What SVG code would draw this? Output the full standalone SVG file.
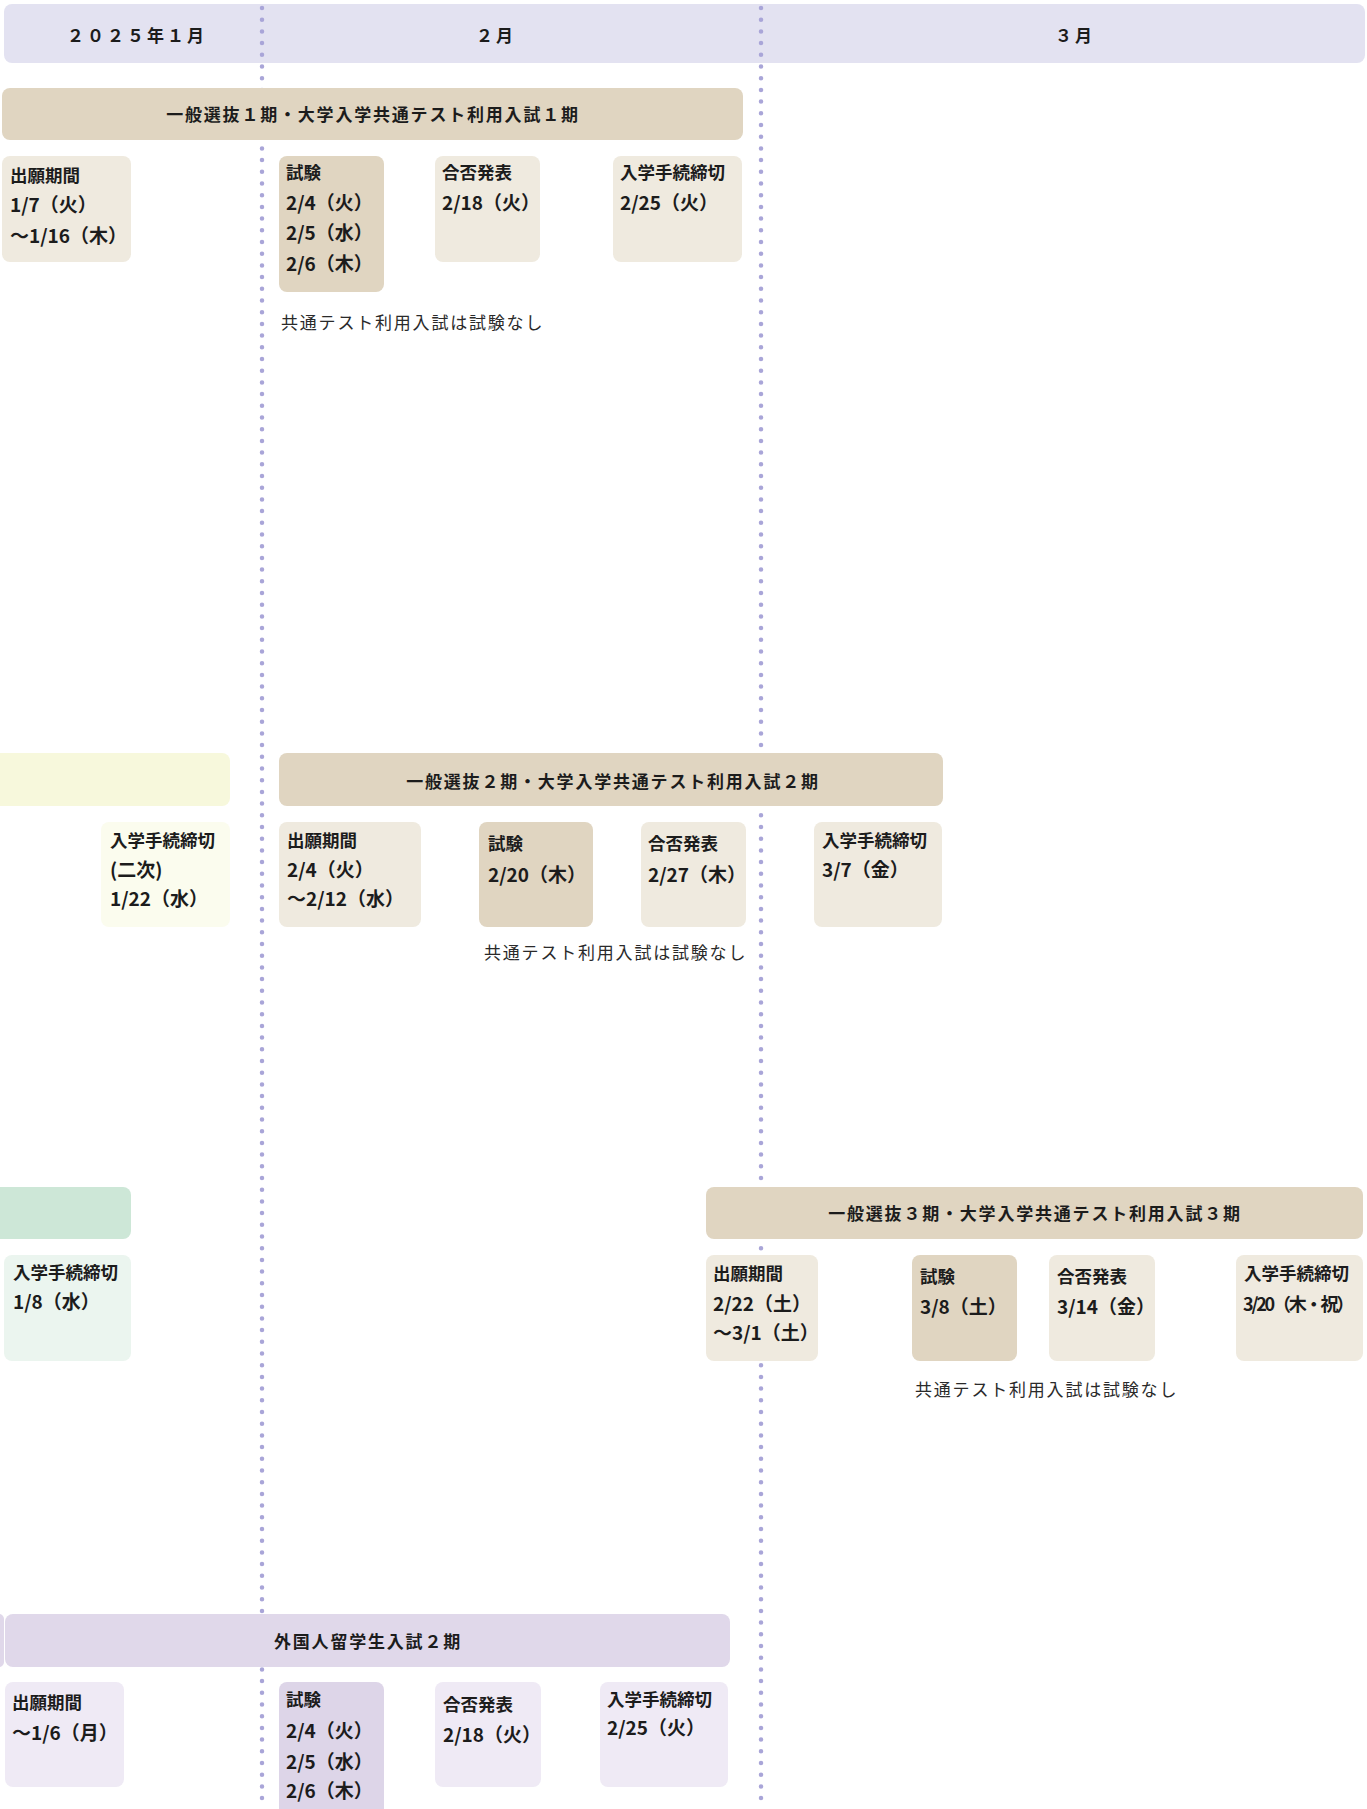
<svg xmlns="http://www.w3.org/2000/svg" width="1367" height="1809" viewBox="0 0 1367 1809">
<style>
text{font-family:"Noto Sans CJK JP","Noto Sans",sans-serif;fill:#1c1c1c}
.hd{font-size:17px;font-weight:700;letter-spacing:3px;text-anchor:middle}
.bn{font-size:17px;font-weight:700;letter-spacing:1.8px;text-anchor:middle}
.lb{font-size:17.5px;font-weight:700}
.dt{font-size:19px;font-weight:700}
.nt{font-size:17px;font-weight:400;letter-spacing:1.8px;fill:#2a2a2a}
.beige{fill:#e0d5c1}
.lbeige{fill:#efeadf}
.lav{fill:#e0d8ea}
.llav{fill:#efeaf5}
.dlav{fill:#ddd5e8}
.grid{stroke:#a9a5d8;stroke-width:4.5;stroke-linecap:round;stroke-dasharray:0 11.7;fill:none}
</style>
<rect width="1367" height="1809" fill="#ffffff"/>
<g id="header">
<rect x="4" y="4" width="1361" height="59" rx="8" fill="#e3e2f1"/>
<text class="hd" x="137" y="42">２０２５年１月</text>
<text class="hd" x="496" y="42">２月</text>
<text class="hd" x="1075" y="42">３月</text>
</g>
<g id="connectors">
<line class="grid" x1="262" y1="8" x2="262" y2="1806"/>
<line class="grid" x1="761" y1="8" x2="761" y2="1806"/>
</g>
<g id="period1">
<g id="p1-banner"><rect class="beige" x="2" y="88" width="741" height="52" rx="8"/><text class="bn" x="373" y="121">一般選抜１期・大学入学共通テスト利用入試１期</text></g>
<g id="p1-apply"><rect class="lbeige" x="2" y="156" width="129" height="106" rx="8"/><text class="lb" x="10" y="182">出願期間</text><text class="dt" x="10" y="212">1/7（火）</text><text class="dt" x="10" y="243">〜1/16（木）</text></g>
<g id="p1-exam"><rect class="beige" x="279" y="156" width="105" height="136" rx="8"/><text class="lb" x="286" y="179">試験</text><text class="dt" x="286" y="210">2/4（火）</text><text class="dt" x="286" y="240">2/5（水）</text><text class="dt" x="286" y="271">2/6（木）</text></g>
<g id="p1-result"><rect class="lbeige" x="435" y="156" width="105" height="106" rx="8"/><text class="lb" x="442" y="179">合否発表</text><text class="dt" x="442" y="210">2/18（火）</text></g>
<g id="p1-deadline"><rect class="lbeige" x="613" y="156" width="129" height="106" rx="8"/><text class="lb" x="620" y="179">入学手続締切</text><text class="dt" x="620" y="210">2/25（火）</text></g>
<text class="nt" x="281" y="329">共通テスト利用入試は試験なし</text>
</g>
<g id="period2">
<g id="prev-yellow"><rect x="-10" y="753" width="240" height="53" rx="8" fill="#f7f8dc"/><rect x="101" y="822" width="129" height="105" rx="8" fill="#fbfcee"/><text class="lb" x="110" y="847">入学手続締切</text><text class="dt" x="110" y="877">(二次)</text><text class="dt" x="110" y="906">1/22（水）</text></g>
<g id="p2-banner"><rect class="beige" x="279" y="753" width="664" height="53" rx="8"/><text class="bn" x="613" y="788">一般選抜２期・大学入学共通テスト利用入試２期</text></g>
<g id="p2-apply"><rect class="lbeige" x="279" y="822" width="142" height="105" rx="8"/><text class="lb" x="287" y="847">出願期間</text><text class="dt" x="287" y="877">2/4（火）</text><text class="dt" x="287" y="906">〜2/12（水）</text></g>
<g id="p2-exam"><rect class="beige" x="479" y="822" width="114" height="105" rx="8"/><text class="lb" x="488" y="850">試験</text><text class="dt" x="488" y="882">2/20（木）</text></g>
<g id="p2-result"><rect class="lbeige" x="641" y="822" width="105" height="105" rx="8"/><text class="lb" x="648" y="850">合否発表</text><text class="dt" x="648" y="882">2/27（木）</text></g>
<g id="p2-deadline"><rect class="lbeige" x="814" y="822" width="128" height="105" rx="8"/><text class="lb" x="822" y="847">入学手続締切</text><text class="dt" x="822" y="877">3/7（金）</text></g>
<text class="nt" x="484" y="959">共通テスト利用入試は試験なし</text>
</g>
<g id="period3">
<g id="prev-green"><rect x="-10" y="1187" width="141" height="52" rx="8" fill="#cde7d7"/><rect x="4" y="1255" width="127" height="106" rx="8" fill="#ebf5ef"/><text class="lb" x="13" y="1279">入学手続締切</text><text class="dt" x="13" y="1309">1/8（水）</text></g>
<g id="p3-banner"><rect class="beige" x="706" y="1187" width="657" height="52" rx="8"/><text class="bn" x="1035" y="1220">一般選抜３期・大学入学共通テスト利用入試３期</text></g>
<g id="p3-apply"><rect class="lbeige" x="706" y="1255" width="112" height="106" rx="8"/><text class="lb" x="713" y="1280">出願期間</text><text class="dt" x="713" y="1311">2/22（土）</text><text class="dt" x="713" y="1340">〜3/1（土）</text></g>
<g id="p3-exam"><rect class="beige" x="912" y="1255" width="105" height="106" rx="8"/><text class="lb" x="920" y="1283">試験</text><text class="dt" x="920" y="1314">3/8（土）</text></g>
<g id="p3-result"><rect class="lbeige" x="1049" y="1255" width="106" height="106" rx="8"/><text class="lb" x="1057" y="1283">合否発表</text><text class="dt" x="1057" y="1314">3/14（金）</text></g>
<g id="p3-deadline"><rect class="lbeige" x="1236" y="1255" width="127" height="106" rx="8"/><text class="lb" x="1244" y="1280">入学手続締切</text><text class="dt" x="1243" y="1311" style="font-size:18px;letter-spacing:-2.2px">3/20（木・祝）</text></g>
<text class="nt" x="915" y="1396">共通テスト利用入試は試験なし</text>
</g>
<g id="period4">
<rect class="lav" x="-10" y="1614" width="14" height="53" rx="5"/>
<g id="p4-banner"><rect class="lav" x="5" y="1614" width="725" height="53" rx="8"/><text class="bn" x="368" y="1648">外国人留学生入試２期</text></g>
<g id="p4-apply"><rect class="llav" x="5" y="1682" width="119" height="105" rx="8"/><text class="lb" x="12" y="1709">出願期間</text><text class="dt" x="12" y="1740">〜1/6（月）</text></g>
<g id="p4-exam"><rect class="dlav" x="279" y="1682" width="105" height="140" rx="8"/><text class="lb" x="286" y="1706">試験</text><text class="dt" x="286" y="1738">2/4（火）</text><text class="dt" x="286" y="1769">2/5（水）</text><text class="dt" x="286" y="1798">2/6（木）</text></g>
<g id="p4-result"><rect class="llav" x="435" y="1682" width="106" height="105" rx="8"/><text class="lb" x="443" y="1711">合否発表</text><text class="dt" x="443" y="1742">2/18（火）</text></g>
<g id="p4-deadline"><rect class="llav" x="600" y="1682" width="128" height="105" rx="8"/><text class="lb" x="607" y="1706">入学手続締切</text><text class="dt" x="607" y="1735">2/25（火）</text></g>
</g>
</svg>
